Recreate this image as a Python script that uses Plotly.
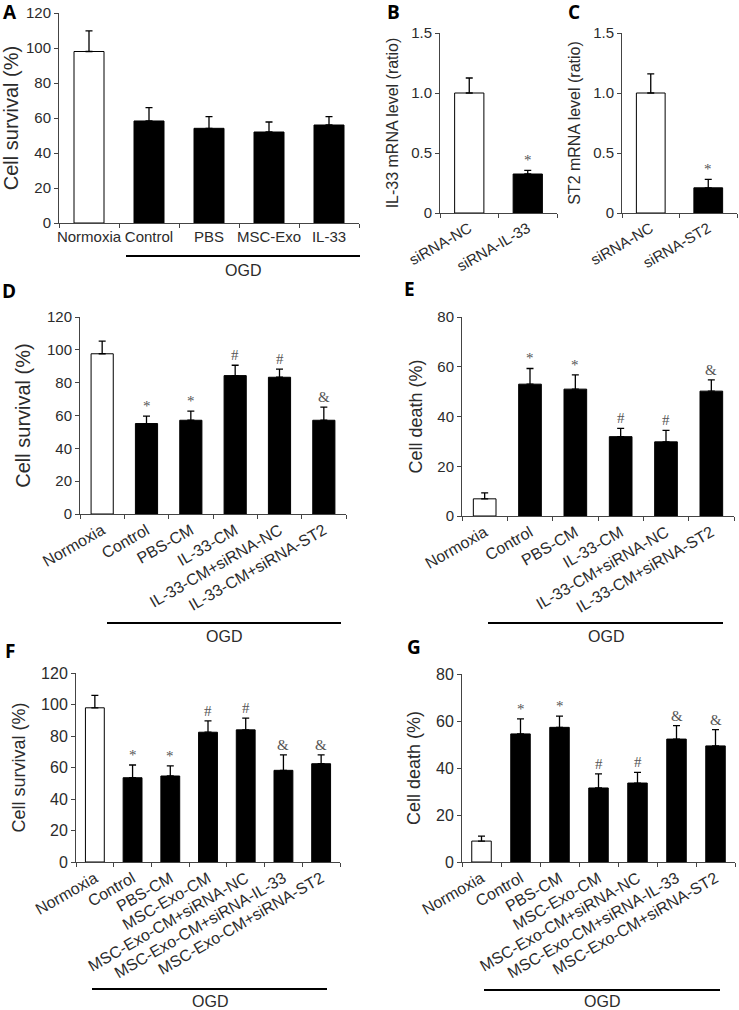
import plotly.graph_objects as go

W, H = 739, 1010

# ---- data ----
a_groups = ["Normoxia", "Control", "PBS", "MSC-Exo", "IL-33"]
a_mean = [98, 58.3, 54.1, 52, 56]
a_err = [11.8, 7.6, 6.7, 5.7, 4.8]
a_fill = ["white", "black", "black", "black", "black"]
a_marks = ["", "", "", "", ""]

b_groups = ["siRNA-NC", "siRNA-IL-33"]
b_mean = [1.0, 0.325]
b_err = [0.125, 0.03]
b_fill = ["white", "black"]
b_marks = ["", "*"]

c_groups = ["siRNA-NC", "siRNA-ST2"]
c_mean = [1.0, 0.21]
c_err = [0.16, 0.07]
c_fill = ["white", "black"]
c_marks = ["", "*"]

d_groups = ["Normoxia", "Control", "PBS-CM", "IL-33-CM",
            "IL-33-CM+siRNA-NC", "IL-33-CM+siRNA-ST2"]
d_mean = [97.6, 55.1, 57.1, 84.3, 83.3, 57.1]
d_err = [7.7, 4.5, 5.6, 6.3, 4.9, 8.0]
d_fill = ["white", "black", "black", "black", "black", "black"]
d_marks = ["", "*", "*", "#", "#", "&"]

e_groups = d_groups
e_mean = [6.9, 53.0, 51.0, 31.9, 29.8, 50.2]
e_err = [2.4, 6.3, 5.7, 3.3, 4.6, 4.5]
e_fill = d_fill
e_marks = ["", "*", "*", "#", "#", "&"]

f_groups = ["Normoxia", "Control", "PBS-CM", "MSC-Exo-CM",
            "MSC-Exo-CM+siRNA-NC", "MSC-Exo-CM+siRNA-IL-33", "MSC-Exo-CM+siRNA-ST2"]
f_mean = [97.9, 53.5, 54.6, 82.4, 83.9, 58.2, 62.4]
f_err = [7.9, 8.1, 6.4, 7.2, 7.4, 9.8, 5.6]
f_fill = ["white", "black", "black", "black", "black", "black", "black"]
f_marks = ["", "*", "*", "#", "#", "&", "&"]

g_groups = f_groups
g_mean = [8.9, 54.5, 57.3, 31.5, 33.6, 52.3, 49.4]
g_err = [2.1, 6.4, 4.8, 6.0, 4.5, 5.7, 6.9]
g_fill = f_fill
g_marks = f_marks

survival_ticks = [0, 20, 40, 60, 80, 100, 120]
death_ticks = [0, 20, 40, 60, 80]
ratio_ticks = [0, 0.5, 1.0, 1.5]
ratio_ticktext = ["0", "0.5", "1.0", "1.5"]

TXT = "#2b2b2b"
LINE = "#444444"
SANS = "Liberation Sans, Arial, sans-serif"
SERIF = "Liberation Serif, Times New Roman, serif"


def px(x):
    return x / W


def py(y):
    return 1 - y / H


fig = go.Figure()


def add_panel(n, groups, mean, err, fill, marks, box, ticks, ticktext,
              ytitle, angle, ytick_size=15, xtick_size=15, title_size=17, standoff=10):
    sfx = "" if n == 1 else str(n)
    x0, y0, x1, y1 = box
    fig.add_trace(go.Bar(
        x=groups, y=mean,
        marker=dict(color=fill, line=dict(color="black", width=1)),
        error_y=dict(type="data", symmetric=False, array=err,
                     arrayminus=[0] * len(err), color="black",
                     thickness=1.3, width=3.5),
        width=0.5, showlegend=False,
        xaxis="x" + sfx, yaxis="y" + sfx,
    ))
    fig.layout["xaxis" + sfx] = dict(
        domain=[px(x0), px(x1)], anchor="y" + sfx, type="category",
        automargin=False,
        showline=True, linecolor=LINE, linewidth=1,
        ticks="outside", tickson="boundaries", ticklen=4, tickcolor=LINE,
        tickangle=angle, tickfont=dict(family=SANS, size=xtick_size, color=TXT),
        showgrid=False, zeroline=False, fixedrange=True,
    )
    fig.layout["yaxis" + sfx] = dict(
        domain=[py(y1), py(y0)], anchor="x" + sfx,
        automargin=False,
        range=[ticks[0], ticks[-1]], tickvals=ticks, ticktext=ticktext,
        showline=True, linecolor=LINE, linewidth=1,
        ticks="outside", ticklen=4, tickcolor=LINE,
        tickfont=dict(family=SANS, size=ytick_size, color=TXT),
        title=dict(text=ytitle, standoff=standoff,
                   font=dict(family=SANS, size=title_size, color=TXT)),
        showgrid=False, zeroline=False, fixedrange=True,
    )
    for g, m, e, k in zip(groups, mean, err, marks):
        if not k:
            continue
        fig.add_annotation(
            x=g, y=m + e, xref="x" + sfx, yref="y" + sfx,
            text=k, showarrow=False, yanchor="bottom", yshift=0,
            font=dict(family=SERIF, size=15, color="#555555"),
        )


add_panel(1, a_groups, a_mean, a_err, a_fill, a_marks, (59, 13, 359, 223),
          survival_ticks, [str(t) for t in survival_ticks], "Cell survival (%)", 0,
          15, 15, 20)
add_panel(2, b_groups, b_mean, b_err, b_fill, b_marks, (440, 33, 557, 213),
          ratio_ticks, ratio_ticktext, "IL-33 mRNA level (ratio)", -30, 15, 15, 16, 8)
add_panel(3, c_groups, c_mean, c_err, c_fill, c_marks, (622, 33, 737, 213),
          ratio_ticks, ratio_ticktext, "ST2 mRNA level (ratio)", -30, 15, 15, 16, 8)
add_panel(4, d_groups, d_mean, d_err, d_fill, d_marks, (80, 317, 346, 514),
          survival_ticks, [str(t) for t in survival_ticks], "Cell survival (%)", -30,
          15, 16, 20)
add_panel(5, e_groups, e_mean, e_err, e_fill, e_marks, (462, 317, 734, 516),
          death_ticks, [str(t) for t in death_ticks], "Cell death (%)", -30,
          15, 16, 18)
add_panel(6, f_groups, f_mean, f_err, f_fill, f_marks, (76, 673, 340, 862),
          survival_ticks, [str(t) for t in survival_ticks], "Cell survival (%)", -30,
          16, 16, 18)
add_panel(7, g_groups, g_mean, g_err, g_fill, g_marks, (462, 674, 735, 862),
          death_ticks, [str(t) for t in death_ticks], "Cell death (%)", -30,
          16, 16, 18)

# OGD brackets under the treated groups
for (x0, x1, yl, yt) in [(126, 360, 256, 270), (107, 341, 623, 636),
                         (488, 723, 623, 636), (92, 327, 989, 1001),
                         (484, 720, 990, 1001)]:
    fig.add_shape(type="line", xref="paper", yref="paper",
                  x0=px(x0), x1=px(x1), y0=py(yl), y1=py(yl),
                  line=dict(color="black", width=2))
    fig.add_annotation(x=px((x0 + x1) / 2), y=py(yt), xref="paper", yref="paper",
                       text="OGD", showarrow=False, xanchor="center", yanchor="middle",
                       font=dict(family=SANS, size=16, color=TXT))

# panel letters
for letter, (lx, ly) in {"A": (10, 12), "B": (393, 12), "C": (574, 12),
                         "D": (9, 291), "E": (409, 289), "F": (10, 651),
                         "G": (414, 647)}.items():
    fig.add_annotation(x=px(lx), y=py(ly), xref="paper", yref="paper",
                       text=f"<b>{letter}</b>", showarrow=False,
                       xanchor="center", yanchor="middle",
                       font=dict(family="Open Sans, sans-serif", size=19, color="black"))

fig.update_layout(
    width=W, height=H,
    margin=dict(l=0, r=0, t=0, b=0),
    paper_bgcolor="white", plot_bgcolor="white",
    bargap=0.5,
)

# drop the browser's default 8px body margin so the figure sits at the page origin
fig.write_html("out.html", config={"displayModeBar": False},
               post_script="document.body.style.margin='0';")
